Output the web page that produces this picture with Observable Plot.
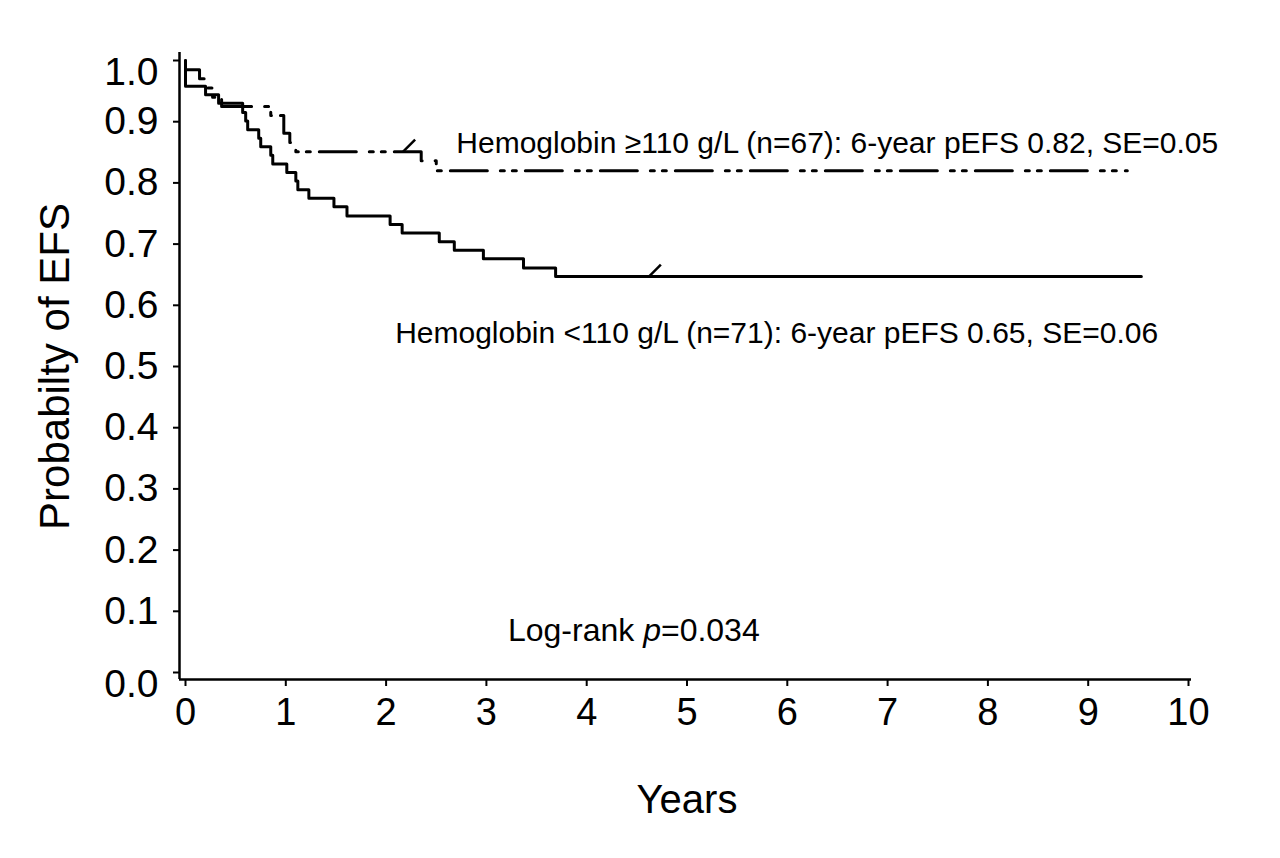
<!DOCTYPE html>
<html><head><meta charset="utf-8">
<script src="https://cdn.jsdelivr.net/npm/d3@7"></script>
<script src="https://cdn.jsdelivr.net/npm/@observablehq/plot@0.6"></script>
<style>body{margin:0;background:#fff}</style>
</head><body><div id="chart"></div>
<script>
// Hemoglobin <110 g/L (n=71) — solid curve
const lowTimes = [0, 0, 0.20, 0.33, 0.57, 0.60, 0.62, 0.73, 0.75, 0.85, 0.87, 1.01, 1.10, 1.12, 1.23, 1.48, 1.61, 2.04, 2.16, 2.53, 2.68, 2.97, 3.37, 3.69, 9.53];
const lowSurv  = [1.0, 0.958, 0.944, 0.930, 0.915, 0.901, 0.887, 0.873, 0.859, 0.845, 0.831, 0.817, 0.803, 0.789, 0.775, 0.761, 0.746, 0.732, 0.718, 0.704, 0.690, 0.676, 0.661, 0.647, 0.647];
// Hemoglobin >=110 g/L (n=67) — dash-dot-dot curve
const highTimes = [0, 0, 0.14, 0.20, 0.27, 0.36, 0.85, 0.98, 1.04, 1.10, 2.35, 2.50, 9.39];
const highSurv  = [1.0, 0.985, 0.970, 0.955, 0.940, 0.925, 0.910, 0.881, 0.866, 0.851, 0.836, 0.820, 0.820];
// censoring marks
const censorTimes = [4.62, 2.17];
const censorSurv  = [0.647, 0.851];
// axes
const xTicks = [0,1,2,3,4,5,6,7,8,9,10];
const yTicks = [0,0.1,0.2,0.3,0.4,0.5,0.6,0.7,0.8,0.9,1.0];
const yTickMid = [0.1,0.2,0.3,0.4,0.5,0.6,0.7,0.8,0.9];
const yTickEnds = [0,1.0];
const labelHigh = "Hemoglobin \u2265110 g/L (n=67): 6-year pEFS 0.82, SE=0.05";
const labelLow  = "Hemoglobin <110 g/L (n=71): 6-year pEFS 0.65, SE=0.06";

const low = lowTimes.map((t,i)=>({t, s: lowSurv[i]}));
const high = highTimes.map((t,i)=>({t, s: highSurv[i]}));
const censors = censorTimes.map((t,i)=>({t, s: censorSurv[i]}));

const slash = {draw(ctx, size){ const r = Math.sqrt(size); ctx.moveTo(0,0); ctx.lineTo(r*0.75, -r*0.75); }};

const FONT = "'Liberation Sans', Arial, Helvetica, sans-serif";
const fmt = d3.format(".1f");

const chart = Plot.plot({
  width: 1280, height: 858,
  marginLeft: 185, marginRight: 92, marginTop: 60, marginBottom: 186,
  style: {fontFamily: FONT, color: "#000", background: "#fff"},
  x: {domain: [0, 10]},
  y: {domain: [0, 1]},
  marks: [
    Plot.ruleX([0], {dx: -6, insetTop: -8, insetBottom: -7, stroke: "#000", strokeWidth: 2.5}),
    Plot.ruleY([0], {dy: 7, insetLeft: -6, insetRight: -3, stroke: "#000", strokeWidth: 2.5}),
    Plot.axisY(yTicks, {dx: -6, tickSize: 6, tickFormat: () => "", label: null, strokeWidth: 2}),
    Plot.text(yTickMid, {frameAnchor: "left", y: d => d, text: fmt, textAnchor: "end", dx: -27, fontSize: 39}),
    Plot.text(yTickEnds, {frameAnchor: "left", y: d => d, text: fmt, textAnchor: "end", dx: -27, dy: 12, fontSize: 39}),
    Plot.axisX(xTicks, {dy: 7, tickSize: 7, tickPadding: 12, fontSize: 38, tickFormat: d => String(d), label: null, strokeWidth: 2}),
    Plot.line(low, {x: "t", y: "s", curve: "step-after", stroke: "#000", strokeWidth: 3}),
    Plot.line(high, {x: "t", y: "s", curve: "step-after", stroke: "#000", strokeWidth: 3, strokeDasharray: "37,13,4,8,4,9"}),
    Plot.dot(censors, {x: "t", y: "s", symbol: slash, r: 9, stroke: "#000", strokeWidth: 2.5, fill: "none"}),
    Plot.text([labelHigh], {x: 2.70, y: 0.864, textAnchor: "start", fontSize: 30}),
    Plot.text([labelLow], {x: 2.09, y: 0.554, textAnchor: "start", fontSize: 30}),
    Plot.text(["Probabilty of EFS"], {frameAnchor: "left", textAnchor: "middle", rotate: -90, dx: -130, fontSize: 42}),
    Plot.text(["Years"], {frameAnchor: "bottom", textAnchor: "middle", dy: 140, fontSize: 40})
  ]
});
document.getElementById("chart").append(chart);

// Log-rank annotation with italic p, placed through the chart's scales
const sx = chart.scale("x"), sy = chart.scale("y");
const svg = d3.select(chart);
const t = svg.append("text")
  .attr("x", sx.apply(3.22)).attr("y", sy.apply(0.069))
  .attr("dy", "0.35em").attr("text-anchor", "start")
  .attr("font-family", FONT).attr("font-size", 32).attr("fill", "#000");
t.append("tspan").text("Log-rank ");
t.append("tspan").attr("font-style", "italic").text("p");
t.append("tspan").text("=0.034");
</script>
</body></html>
